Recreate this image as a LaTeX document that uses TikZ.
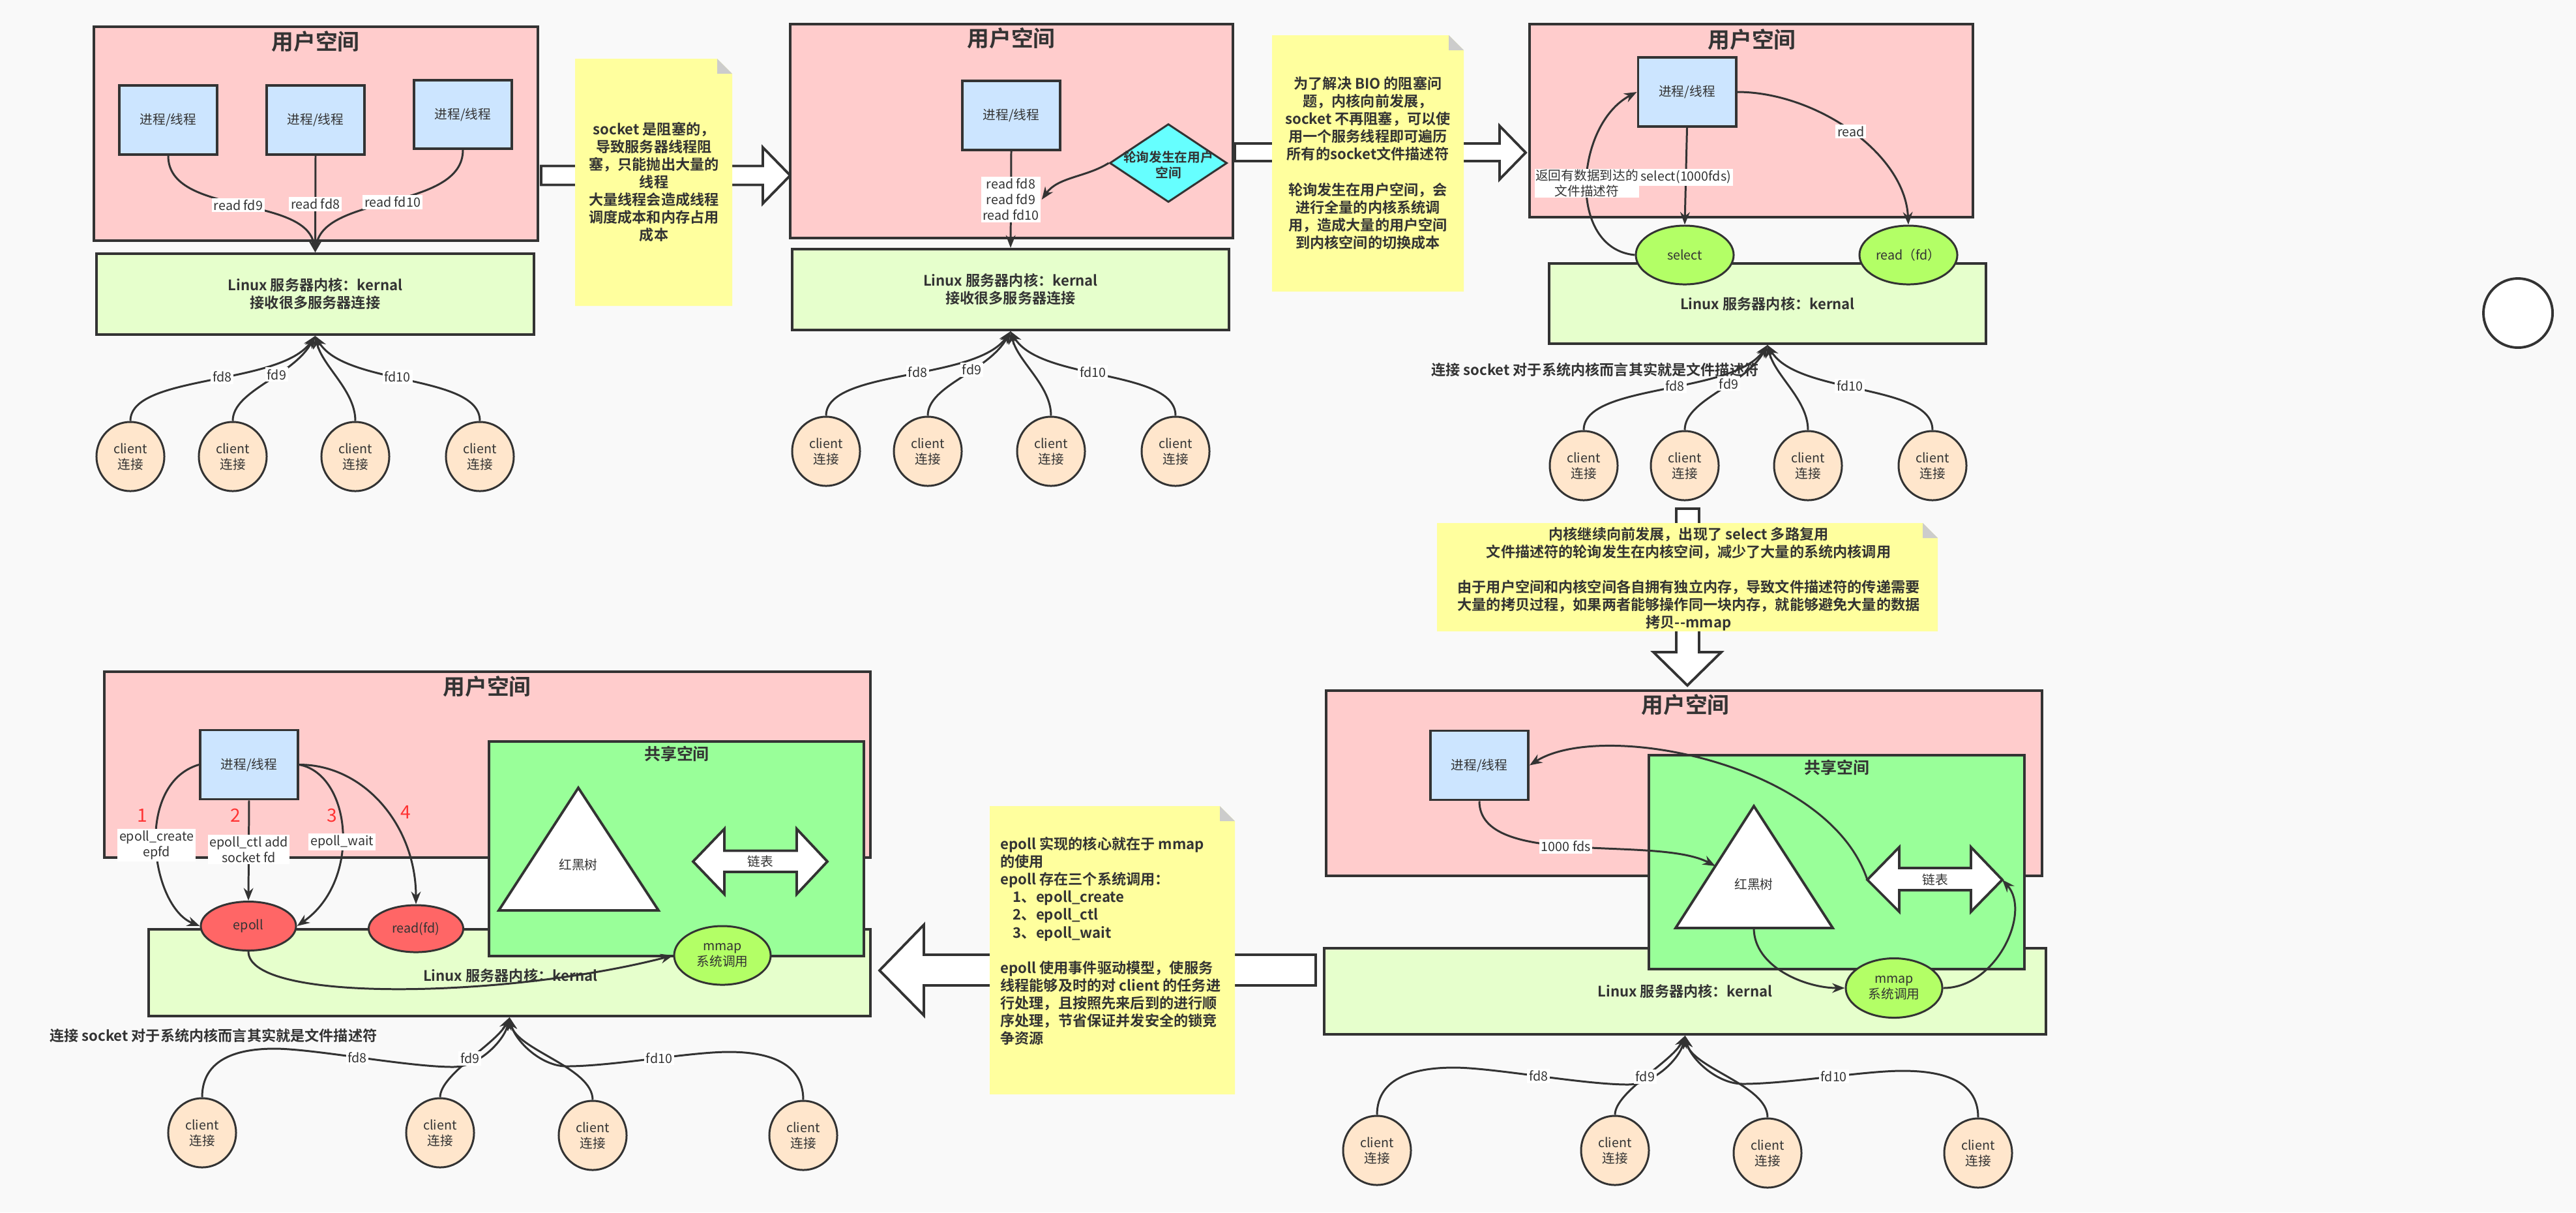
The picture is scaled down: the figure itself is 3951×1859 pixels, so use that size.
\documentclass[tikz,border=0pt]{standalone}
\usepackage{fontspec}
\setmainfont{Noto Sans CJK SC}[BoldFont={Noto Sans CJK SC Bold}]
\usetikzlibrary{arrows.meta,shapes}

\definecolor{bgcol}{HTML}{F9F9F9}
\definecolor{linecol}{HTML}{333333}
\definecolor{userfill}{HTML}{FFCCCC}
\definecolor{procfill}{HTML}{CCE5FF}
\definecolor{kernfill}{HTML}{E6FFCC}
\definecolor{notefill}{HTML}{FFFF9E}
\definecolor{foldfill}{HTML}{CCCCCC}
\definecolor{pollfill}{HTML}{66FFFF}
\definecolor{callfill}{HTML}{B3FF66}
\definecolor{sharefill}{HTML}{99FF99}
\definecolor{epollfill}{HTML}{FF6666}
\definecolor{clientfill}{HTML}{FFE6CC}
\definecolor{numred}{HTML}{FF3333}

\newcommand{\labfont}{\fontsize{5.6}{6.8}\selectfont}
\newcommand{\boldlab}{\fontsize{5.6}{6.8}\selectfont\bfseries}
\newcommand{\notefont}{\fontsize{6.3}{7.7}\selectfont\bfseries}
\newcommand{\titlefont}{\fontsize{9.6}{11}\selectfont\bfseries}
\newcommand{\sharefont}{\fontsize{7.1}{8.5}\selectfont\bfseries}
\newcommand{\numfont}{\fontsize{8}{9}\selectfont}

% yellow sticky note with folded corner: x1 y1 x2 y2
\newcommand{\stickynote}[4]{%
  \fill[notefill] (#1,#2) -- ({#3-23},#2) -- (#3,{#2+23}) -- (#3,#4) -- (#1,#4) -- cycle;
  \fill[foldfill] ({#3-23},#2) -- ({#3-23},{#2+23}) -- (#3,{#2+23}) -- cycle;}

\begin{document}
\begin{tikzpicture}[x=0.01cm,y=-0.01cm,>={Stealth[length=5.5pt,width=4.2pt]},line width=0.85pt,color=linecol,
  userbox/.style={draw,fill=userfill,line width=1.1pt,inner sep=0pt},
  kernbox/.style={draw,fill=kernfill,line width=1.1pt,inner sep=0pt,align=center,font=\notefont},
  sharebox/.style={draw,fill=sharefill,line width=1.1pt,inner sep=0pt},
  proc/.style={draw,fill=procfill,line width=1.1pt,minimum width=1.5cm,minimum height=1.06cm,inner sep=0pt,font=\labfont},
  client/.style={ellipse,draw,fill=clientfill,minimum width=1.04cm,minimum height=1.06cm,inner sep=0pt,align=center,font=\labfont},
  call/.style={ellipse,draw,fill=callfill,minimum width=1.5cm,minimum height=0.9cm,inner sep=0pt,align=center,font=\labfont},
  epoll/.style={ellipse,draw,fill=epollfill,minimum width=1.46cm,minimum height=0.75cm,inner sep=0pt,font=\labfont},
  poll/.style={diamond,draw,fill=pollfill,minimum width=1.8cm,minimum height=1.2cm,inner sep=0pt},
  lbl/.style={fill=white,inner sep=0.8pt,align=center,font=\labfont},
  usertitle/.style={font=\titlefont},
  sharetitle/.style={font=\sharefont},
  notetext/.style={align=center,font=\notefont},
  num/.style={text=numred,font=\numfont},
  blockarrow/.style={draw,fill=white,line width=1.1pt},
  rbtree/.style={draw,fill=white,line width=1.1pt}]

  \fill[bgcol] (0,0) rectangle (3951,1859);

  % big arrows between the steps
  \draw[blockarrow] (830,254.5) -- (1170,254.5) -- (1170,226) -- (1212,269) -- (1170,312) -- (1170,283.5) -- (830,283.5) -- cycle;
  \draw[blockarrow] (1894,220) -- (2300,220) -- (2300,193) -- (2340,234) -- (2300,275) -- (2300,247) -- (1894,247) -- cycle;
  \draw[blockarrow] (2571,780) -- (2606,780) -- (2606,1000) -- (2640,1000) -- (2588,1051) -- (2536,1000) -- (2571,1000) -- cycle;
  \draw[blockarrow] (2018,1464) -- (1417,1464) -- (1417,1418) -- (1349,1488) -- (1417,1557) -- (1417,1511) -- (2018,1511) -- cycle;

  % notes
  \stickynote{882}{90}{1123}{469}
  \node[notetext] (n1) at (1003,279) {socket 是阻塞的，\\导致服务器线程阻\\塞，只能抛出大量的\\线程\\大量线程会造成线程\\调度成本和内存占用\\成本};
  \stickynote{1951}{54}{2245}{447}
  \node[notetext] (n2) at (2098,250) {为了解决 BIO 的阻塞问\\题，内核向前发展，\\socket 不再阻塞，可以使\\用一个服务线程即可遍历\\所有的socket文件描述符\\[7.7pt]轮询发生在用户空间，会\\进行全量的内核系统调\\用，造成大量的用户空间\\到内核空间的切换成本};
  \stickynote{2204}{802}{2972}{968}
  \node[notetext] (n3) at (2590,888) {内核继续向前发展，出现了 select 多路复用\\文件描述符的轮询发生在内核空间，减少了大量的系统内核调用\\[7.7pt]由于用户空间和内核空间各自拥有独立内存，导致文件描述符的传递需要\\大量的拷贝过程，如果两者能够操作同一块内存，就能够避免大量的数据\\拷贝{-}{-}mmap};
  \stickynote{1518}{1236}{1894}{1678}
  \node[notetext,align=left,anchor=west,inner sep=0pt] (n4) at (1533,1443) {epoll 实现的核心就在于 mmap\\的使用\\epoll 存在三个系统调用：\\\hspace{5.5pt}1、epoll\_create\\\hspace{5.5pt}2、epoll\_ctl\\\hspace{5.5pt}3、epoll\_wait\\[7.7pt]epoll 使用事件驱动模型，使服务\\线程能够及时的对 client 的任务进\\行处理，且按照先来后到的进行顺\\序处理，节省保证并发安全的锁竞\\争资源};

  % BIO
  \node[userbox,minimum width=6.81cm,minimum height=3.28cm] (u1) at (484.5,205) {};
  \node[usertitle] (u1t) at (484,64) {用户空间};
  \node[proc] (p1a) at (258,184) {进程/线程};
  \node[proc] (p1b) at (484,184) {进程/线程};
  \node[proc,minimum height=1.05cm] (p1c) at (710,175.5) {进程/线程};
  \node[kernbox,minimum width=6.71cm,minimum height=1.24cm] (k1) at (483.5,451) {Linux 服务器内核：kernal\\接收很多服务器连接};
  \draw[->] (p1a.south) .. controls +(0,93) and +(-14,-89) .. (k1.north) node[lbl,pos=.5] {read fd9};
  \draw[->] (p1b.south) -- (k1.north) node[lbl,pos=.5] {read fd8};
  \draw[->] (p1c.south) .. controls +(0,92) and +(14,-89) .. (k1.north) node[lbl,pos=.5] {read fd10};
  \node[client] (c1a) at (200,700) {client\\连接};
  \node[client] (c1b) at (357,700) {client\\连接};
  \node[client] (c1c) at (545,700) {client\\连接};
  \node[client] (c1d) at (736,700) {client\\连接};
  \draw[->] (c1a.north) .. controls +(0,-72) and +(-54,77) .. (k1.south) node[lbl,pos=.55] {fd8};
  \draw[->] (c1b.north) .. controls +(0,-47) and +(-34,62) .. (k1.south) node[lbl,pos=.6] {fd9};
  \draw[->] (c1c.north) .. controls +(0,-47) and +(11,47) .. (k1.south);
  \draw[->] (c1d.north) .. controls +(0,-72) and +(46,77) .. (k1.south) node[lbl,pos=.55] {fd10};

  % NIO
  \node[userbox,minimum width=6.79cm,minimum height=3.275cm] (u2) at (1551.5,200.75) {};
  \node[usertitle] (u2t) at (1551,59) {用户空间};
  \node[proc] (p2) at (1551,177) {进程/线程};
  \node[poll] (d2) at (1792,250) {};
  \node[font=\boldlab,align=center] (d2t) at (1792,253) {轮询发生在用户\\空间};
  \node[kernbox,minimum width=6.70cm,minimum height=1.24cm] (k2) at (1550,444) {Linux 服务器内核：kernal\\接收很多服务器连接};
  \draw[->] (p2.south) -- (k2.north) node[lbl,pos=.5] (r2) {read fd8\\read fd9\\read fd10};
  \draw[->] (d2.west) .. controls +(-35,22) and +(25,-35) .. (r2.east);
  \node[client] (c2a) at (1267,692) {client\\连接};
  \node[client] (c2b) at (1423,692) {client\\连接};
  \node[client] (c2c) at (1612,692) {client\\连接};
  \node[client] (c2d) at (1803,692) {client\\连接};
  \draw[->] (c2a.north) .. controls +(0,-72) and +(-54,77) .. (k2.south) node[lbl,pos=.55] {fd8};
  \draw[->] (c2b.north) .. controls +(0,-47) and +(-34,62) .. (k2.south) node[lbl,pos=.6] {fd9};
  \draw[->] (c2c.north) .. controls +(0,-47) and +(11,47) .. (k2.south);
  \draw[->] (c2d.north) .. controls +(0,-72) and +(46,77) .. (k2.south) node[lbl,pos=.55] {fd10};

  % select
  \node[userbox,minimum width=6.80cm,minimum height=2.96cm] (u3) at (2686,185) {};
  \node[usertitle] (u3t) at (2687,61) {用户空间};
  \node[proc] (p3) at (2587.5,141) {进程/线程};
  \node[kernbox,minimum width=6.70cm,minimum height=1.23cm] (k3) at (2711,465.5) {Linux 服务器内核：kernal};
  \node[call] (sel3) at (2584,391) {select};
  \node[call] (rd3) at (2927,391) {read（fd）};
  \draw[->] (p3.south) -- (sel3.north) node[lbl,pos=.51] {select(1000fds)};
  \draw[->] (sel3.west) .. controls +(-105,-10) and +(-95,50) .. (p3.west) node[lbl,pos=.5,inner sep=0.3pt] {返回有数据到达的\\文件描述符};
  \draw[->] (p3.east) .. controls +(120,0) and +(-5,-110) .. (rd3.north) node[lbl,pos=.5] {read};
  \node[font=\notefont,anchor=west] (cap3) at (2182,567) {连接 socket 对于系统内核而言其实就是文件描述符};
  \node[client] (c3a) at (2429,714) {client\\连接};
  \node[client] (c3b) at (2584,714) {client\\连接};
  \node[client] (c3c) at (2773,714) {client\\连接};
  \node[client] (c3d) at (2964,714) {client\\连接};
  \draw[->] (c3a.north) .. controls +(0,-72) and +(-54,77) .. (k3.south) node[lbl,pos=.55] {fd8};
  \draw[->] (c3b.north) .. controls +(0,-47) and +(-34,62) .. (k3.south) node[lbl,pos=.6] {fd9};
  \draw[->] (c3c.north) .. controls +(0,-47) and +(11,47) .. (k3.south);
  \draw[->] (c3d.north) .. controls +(0,-72) and +(46,77) .. (k3.south) node[lbl,pos=.55] {fd10};

  % mmap
  \node[userbox,minimum width=10.98cm,minimum height=2.84cm] (u4) at (2583,1201) {};
  \node[usertitle] (u4t) at (2585,1081) {用户空间};
  \node[kernbox,minimum width=11.07cm,minimum height=1.32cm] (k4) at (2584.5,1520) {Linux 服务器内核：kernal};
  \node[sharebox,minimum width=5.76cm,minimum height=3.28cm] (s4) at (2817,1322) {};
  \node[sharetitle] (s4t) at (2817,1177) {共享空间};
  \node[proc] (p4) at (2269,1173.5) {进程/线程};
  \draw[rbtree] (2690,1236) -- (2811,1423) -- (2570,1423) -- cycle;
  \node[font=\labfont] (t4) at (2690,1356) {红黑树};
  \coordinate (t4in) at (2631,1328);
  \coordinate (t4base) at (2690,1423);
  \draw[blockarrow] (2864,1349) -- (2913,1299) -- (2913,1331) -- (3023,1331) -- (3023,1299) -- (3071,1349) -- (3023,1398) -- (3023,1365) -- (2913,1365) -- (2913,1398) -- cycle;
  \coordinate (l4w) at (2864,1349);
  \coordinate (l4e) at (3071,1349);
  \node[font=\labfont] (l4) at (2968,1349) {链表};
  \node[call,minimum width=1.48cm,minimum height=0.91cm] (m4) at (2905,1515) {mmap\\系统调用};
  \draw[->] (p4.south) .. controls +(0,104) and +(-91,-48) .. (t4in) node[lbl,pos=.47] {1000 fds};
  \draw[->] (t4base) .. controls +(0,60) and +(-60,0) .. (m4.west);
  \draw[->] (m4.east) .. controls +(81,0) and +(45,50) .. (l4e);
  \draw[->] (l4w) .. controls +(-60,-180) and +(110,-70) .. (p4.east);
  \node[client] (c4a) at (2112,1764) {client\\连接};
  \node[client] (c4b) at (2477,1764) {client\\连接};
  \node[client] (c4c) at (2711,1768) {client\\连接};
  \node[client] (c4d) at (3034,1768) {client\\连接};
  \draw[->] (c4a.north) .. controls +(0,-60) and +(-55,0) .. (2230,1637) .. controls +(60,0) and +(-70,0) .. (2497,1663) node[lbl,pos=.5] {fd8} .. controls +(40,0) and +(-8,35) .. (k4.south);
  \draw[->] (c4b.north) .. controls +(0,-35) and +(-20,40) .. (k4.south) node[lbl,pos=.5] {fd9};
  \draw[->] (c4c.north) .. controls +(0,-50) and +(10,50) .. (k4.south);
  \draw[->] (c4d.north) .. controls +(0,-60) and +(55,0) .. (2918,1642) .. controls +(-60,0) and +(70,0) .. (2673,1662) node[lbl,pos=.45] {fd10} .. controls +(-40,0) and +(8,35) .. (k4.south);

  % epoll
  \node[userbox,minimum width=11.75cm,minimum height=2.85cm] (u5) at (747.5,1172.5) {};
  \node[usertitle] (u5t) at (747,1053) {用户空间};
  \node[kernbox,minimum width=11.07cm,minimum height=1.33cm] (k5) at (781.5,1491.5) {};
  \node[font=\notefont] (k5t) at (783,1496) {Linux 服务器内核：kernal};
  \node[sharebox,minimum width=5.75cm,minimum height=3.29cm] (s5) at (1037.5,1301.5) {};
  \node[sharetitle] (s5t) at (1038,1156) {共享空间};
  \node[proc] (p5) at (382,1172.5) {进程/线程};
  \draw[rbtree] (887,1208) -- (1010,1396) -- (765,1396) -- cycle;
  \node[font=\labfont] (t5) at (887,1326) {红黑树};
  \draw[blockarrow] (1063,1321) -- (1111,1271) -- (1111,1304.5) -- (1222,1304.5) -- (1222,1271) -- (1269,1321) -- (1222,1371) -- (1222,1337) -- (1111,1337) -- (1111,1371) -- cycle;
  \node[font=\labfont] (l5) at (1166,1321) {链表};
  \node[epoll] (e5) at (381,1420) {epoll};
  \node[epoll,minimum width=1.45cm,minimum height=0.72cm] (r5) at (638,1424) {read(fd)};
  \node[call,minimum width=1.48cm,minimum height=0.9cm] (m5) at (1108,1465) {mmap\\系统调用};
  \draw[->] (p5.west) .. controls +(-100,30) and +(-75,-30) .. (e5.west) node[lbl,pos=.5] {epoll\_create\\epfd};
  \draw[->] (p5.south) -- (e5.north) node[lbl,pos=.49] {epoll\_ctl add\\socket fd};
  \draw[->] (p5.east) .. controls +(80,15) and +(100,-70) .. (e5.east) node[lbl,pos=.55] {epoll\_wait};
  \draw[->] (p5.east) .. controls +(100,0) and +(0,-120) .. (r5.north);
  \draw[->] (e5.south) .. controls +(0,80) and +(-250,65) .. (m5.west);
  \node[num] (n51) at (218,1250) {1};
  \node[num] (n52) at (361,1250) {2};
  \node[num] (n53) at (509,1250) {3};
  \node[num] (n54) at (622,1245) {4};
  \node[font=\notefont,anchor=west] (cap5) at (63,1588) {连接 socket 对于系统内核而言其实就是文件描述符};
  \node[client] (c5a) at (310,1737) {client\\连接};
  \node[client] (c5b) at (675,1737) {client\\连接};
  \node[client] (c5c) at (909,1741) {client\\连接};
  \node[client] (c5d) at (1232,1741) {client\\连接};
  \draw[->] (c5a.north) .. controls +(0,-60) and +(-55,0) .. (421,1608) .. controls +(60,0) and +(-70,0) .. (695,1636) node[lbl,pos=.48] {fd8} .. controls +(40,0) and +(-8,35) .. (k5.south);
  \draw[->] (c5b.north) .. controls +(0,-35) and +(-20,40) .. (k5.south) node[lbl,pos=.5] {fd9};
  \draw[->] (c5c.north) .. controls +(0,-50) and +(10,50) .. (k5.south);
  \draw[->] (c5d.north) .. controls +(0,-60) and +(55,0) .. (1118,1613) .. controls +(-60,0) and +(70,0) .. (869,1635) node[lbl,pos=.45] {fd10} .. controls +(-40,0) and +(8,35) .. (k5.south);

  % lone circle
  \node[circle,draw,fill=white,line width=1.1pt,minimum size=1.06cm] (o1) at (3862,480) {};
\end{tikzpicture}
\end{document}
